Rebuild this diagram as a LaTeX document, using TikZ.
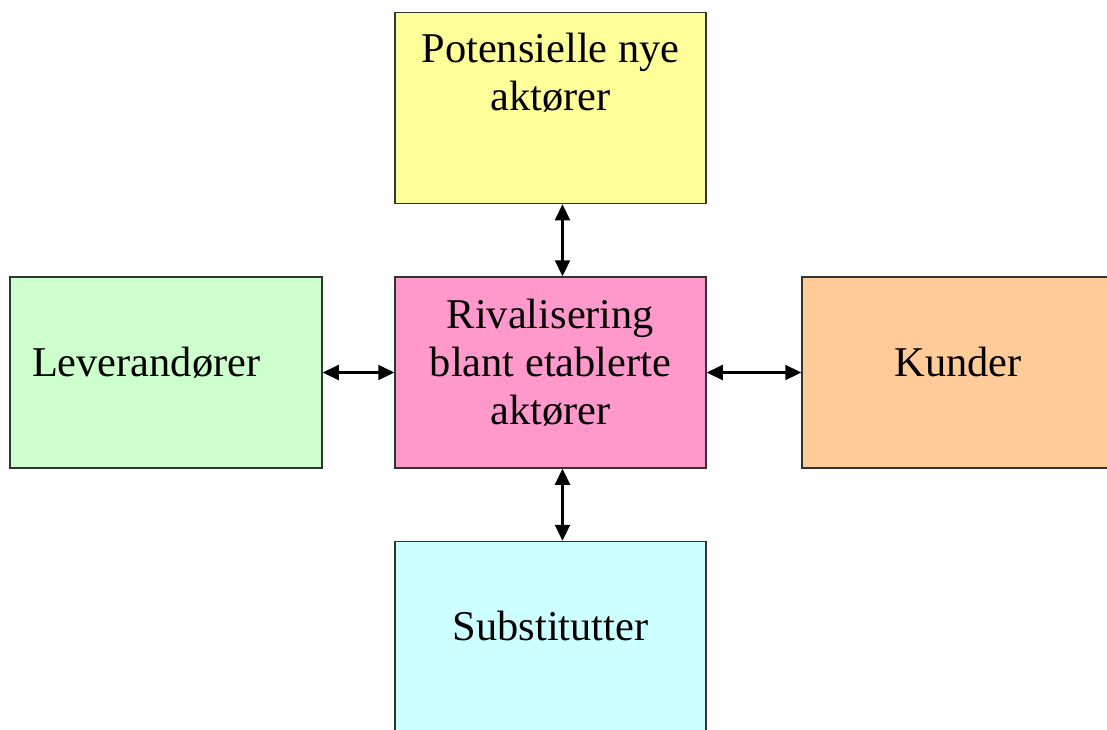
\documentclass[tikz,border=0pt]{standalone}
\usepackage{fontspec}
\setmainfont{Liberation Serif}
\usetikzlibrary{arrows.meta,positioning}
\definecolor{lightyellow}{HTML}{FFFF99}
\definecolor{lightgreen}{HTML}{CCFFCC}
\definecolor{lightpink}{HTML}{FF99CC}
\definecolor{lightorange}{HTML}{FFCC99}
\definecolor{lightcyan}{HTML}{CCFFFF}

\begin{document}
\begin{tikzpicture}[x=1pt,y=-1pt,
		force/.style={draw=black!80,line width=1.5pt,minimum width=311pt,minimum height=191pt,inner sep=0pt,align=center,
			font=\fontsize{42.4}{48}\selectfont,text height=30pt,text depth=23pt},
		forcetext/.style={inner sep=0pt,align=center,font=\fontsize{42.4}{48}\selectfont,text height=78pt,text depth=23pt},
		link/.style={{Triangle[length=16pt,width=15pt]}-{Triangle[length=16pt,width=15pt]},line width=2.2pt}]
	\useasboundingbox (0,0) rectangle (1107,729);
	% the five forces
	\node[force,fill=lightyellow] (nye) at (550.5,108) {};
	\node[forcetext,below=21pt of nye.north] (nyetext) {Potensielle nye\\aktører};
	\node[force,fill=lightgreen,text width=268pt,align=left,inner xsep=22pt] (lev) at (166,372.5) {Leverandører};
	\node[force,fill=lightpink,text height=126pt] (rival) at (550.5,372.5) {Rivalisering\\blant etablerte\\aktører};
	\node[force,fill=lightorange,minimum width=312pt] (kunder) at (958,372.5) {Kunder};
	\node[force,fill=lightcyan] (sub) at (550.5,637) {Substitutter};
	% links
	\draw[link] ([xshift=12pt]nye.south) -- ([xshift=12pt]rival.north);
	\draw[link] (lev.east) -- (rival.west);
	\draw[link] (rival.east) -- (kunder.west);
	\draw[link] ([xshift=12pt]rival.south) -- ([xshift=12pt]sub.north);
\end{tikzpicture}
\end{document}
